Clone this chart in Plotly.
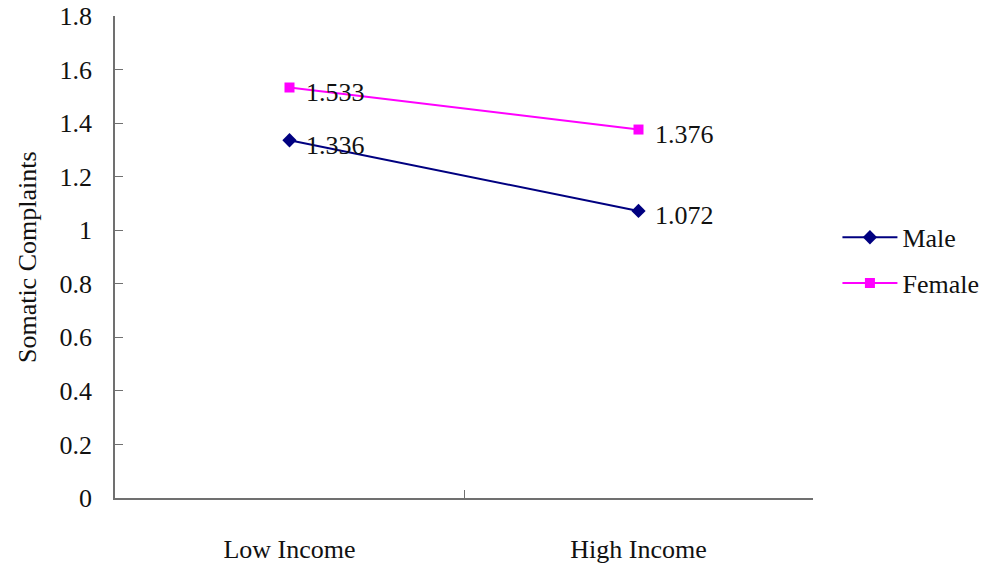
import plotly.graph_objects as go

categories = ["Low Income", "High Income"]
male_values = [1.336, 1.072]
female_values = [1.533, 1.376]
y_ticks = [0, 0.2, 0.4, 0.6, 0.8, 1, 1.2, 1.4, 1.6, 1.8]
y_tick_labels = ["0", "0.2", "0.4", "0.6", "0.8", "1", "1.2", "1.4", "1.6", "1.8"]

FONT = "Liberation Serif"
AXIS_COLOR = "#707070"

fig = go.Figure()
fig.add_trace(go.Scatter(
    x=categories, y=male_values, name="Male", mode="lines+markers",
    legendgroup="m",
    line=dict(color="#000080", width=2),
    marker=dict(symbol="diamond", size=11, color="#000080"),
))
fig.add_trace(go.Scatter(
    x=categories, y=female_values, name="Female", mode="lines+markers",
    legendgroup="f",
    line=dict(color="#FF00FF", width=2),
    marker=dict(symbol="square", size=10, color="#FF00FF"),
))

annotations = []
for vals in (male_values, female_values):
    for c, v in zip(categories, vals):
        annotations.append(dict(
            x=c, y=v, xref="x", yref="y", text=f"{v:.3f}", showarrow=False,
            xanchor="left", yanchor="middle", xshift=14, yshift=-5,
            font=dict(family=FONT, size=26, color="#111111"),
        ))
annotations.append(dict(
    x=-0.126, y=0.5, xref="paper", yref="paper", text="Somatic Complaints",
    showarrow=False, textangle=-90, xanchor="center", yanchor="middle",
    font=dict(family=FONT, size=26, color="#111111"),
))

fig.update_layout(
    width=985, height=565,
    margin=dict(l=115, r=172, t=16, b=67, autoexpand=False),
    plot_bgcolor="white", paper_bgcolor="white",
    font=dict(family=FONT, size=26, color="#111111"),
    annotations=annotations,
    legend=dict(x=1.035, y=0.493, xanchor="left", yanchor="middle",
                font=dict(family=FONT, size=26, color="#111111"),
                bgcolor="rgba(0,0,0,0)", traceorder="grouped",
                tracegroupgap=9, itemwidth=55),
    xaxis=dict(
        type="category", categoryorder="array", categoryarray=categories,
        range=[-0.5, 1.5], tickson="boundaries", ticks="inside", ticklen=8,
        tickcolor=AXIS_COLOR, showline=True, linecolor=AXIS_COLOR, linewidth=1.5,
        showgrid=False, zeroline=False, ticklabelstandoff=27, automargin=False,
        tickfont=dict(family=FONT, size=26, color="#111111"),
    ),
    yaxis=dict(
        range=[0, 1.8], tickvals=y_ticks, ticktext=y_tick_labels,
        ticks="inside", ticklen=8, tickcolor=AXIS_COLOR, showline=True,
        linecolor=AXIS_COLOR, linewidth=1.5, showgrid=False, zeroline=False,
        ticklabelstandoff=16, automargin=False,
        tickfont=dict(family=FONT, size=26, color="#111111"),
    ),
)

fig.write_html("out.html")
